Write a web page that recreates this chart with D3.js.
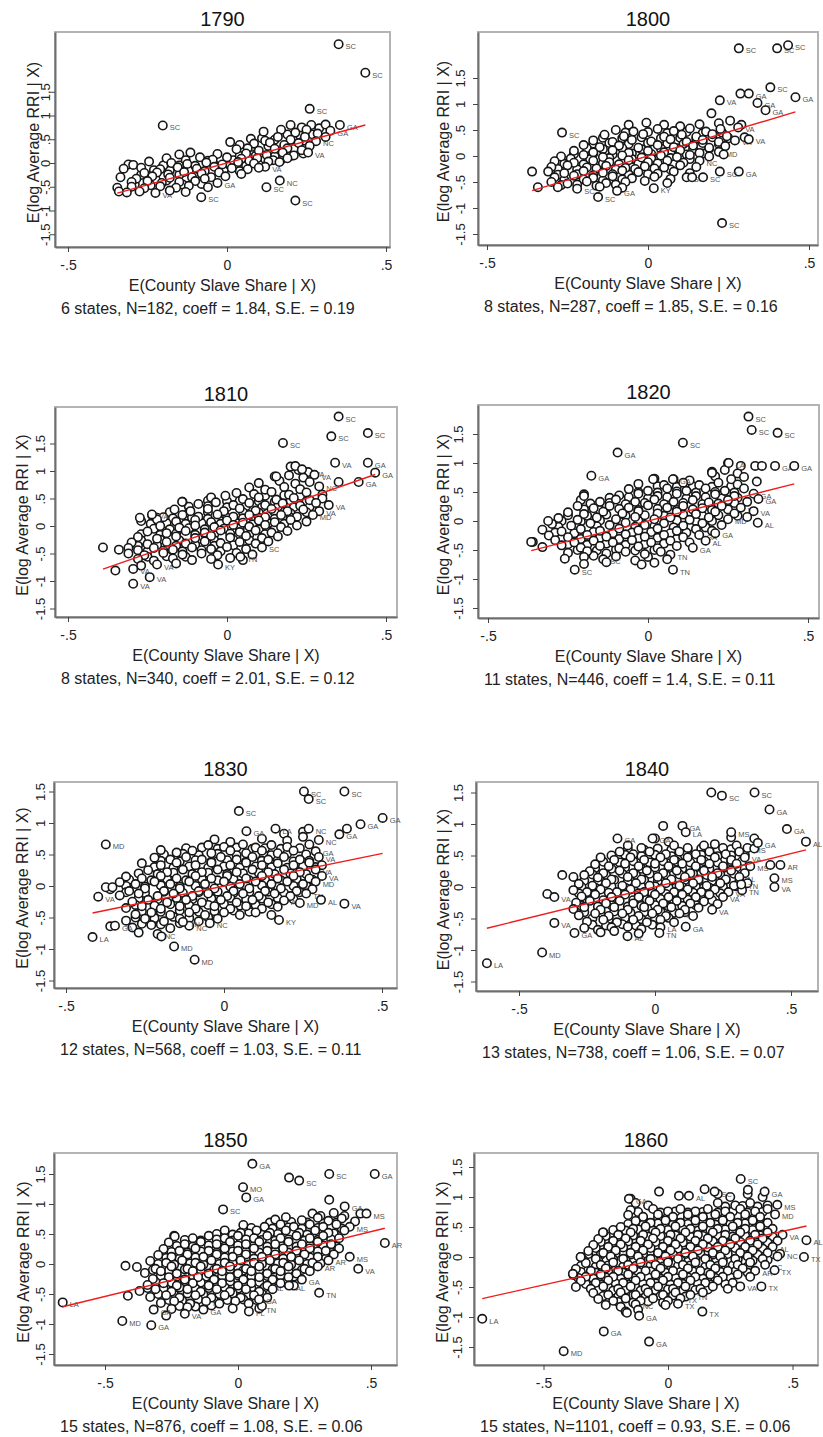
<!DOCTYPE html>
<html>
<head>
<meta charset="utf-8">
<script src="https://cdn.jsdelivr.net/npm/d3@7"></script>
<style>
  body { margin: 0; background: #fff; }
  text { font-family: "Liberation Sans", Arial, Helvetica, sans-serif; }
</style>
</head>
<body>
<div id="chart"></div>
<script>
// one panel per census year
const years = [1790, 1800, 1810, 1820, 1830, 1840, 1850, 1860];
const nStates = [6, 8, 8, 11, 12, 13, 15, 15];
const nObs = [182, 287, 340, 446, 568, 738, 876, 1101];
const coeffs = [1.84, 1.85, 2.01, 1.4, 1.03, 1.06, 1.08, 0.93];
const stdErrs = [0.19, 0.16, 0.12, 0.11, 0.11, 0.07, 0.06, 0.06];
const xTicks = [-0.5, 0, 0.5];
const yTicks = [-1.5, -1, -0.5, 0, 0.5, 1, 1.5];

// counties: [x, y, state label]
const pts1790 = [
  [0.20,0.80],[0.235,0.75],[0.265,0.80],[0.29,0.73],[0.31,0.81],[0.355,0.80,"GA"],
  [0.115,0.66],[0.17,0.70],[0.215,0.64],[0.25,0.70],[0.285,0.62],[0.325,0.68,"GA"],
  [0.075,0.51],[0.12,0.47],[0.16,0.55],[0.2,0.49],[0.245,0.55],[0.28,0.46,"NC"],[0.31,0.55],
  [0.01,0.44],[0.04,0.38,"GA"],[0.085,0.41],[0.135,0.43],[0.18,0.38],[0.225,0.42],[0.26,0.36],
  [0.03,0.29],[0.065,0.31],[0.1,0.26],[0.15,0.30],[0.19,0.31],[0.235,0.27],[0.255,0.22,"VA"],
  [-0.15,0.18],[-0.115,0.22],[-0.03,0.19],[0.06,0.20],[0.125,0.17],[0.175,0.22],[0.21,0.16],
  [-0.19,0.1],[-0.085,0.12],[-0.045,0.07],[0.0,0.12],[0.045,0.09],[0.095,0.1],[0.145,0.06],[0.19,0.1],[0.165,0.02],
  [-0.31,-0.03],[-0.295,-0.04],[-0.245,0.03],[-0.175,0.0],[-0.125,-0.02],[-0.065,0.01],[-0.015,-0.03],[0.035,0.02],[0.085,-0.01],[0.13,0.03],[0.12,-0.08,"VA"],
  [-0.325,-0.12],[-0.27,-0.1],[-0.21,-0.13],[-0.155,-0.09],[-0.095,-0.12],[-0.04,-0.08],[0.015,-0.11],[0.065,-0.13],[0.1,-0.1],
  [-0.26,-0.21],[-0.22,-0.2],[-0.185,-0.24],[-0.135,-0.19],[-0.08,-0.22],[-0.025,-0.2],[0.045,-0.23],
  [-0.335,-0.3],[-0.285,-0.33],[-0.235,-0.28],[-0.18,-0.31],[-0.11,-0.3],[-0.07,-0.33],[-0.005,-0.28],
  [-0.3,-0.4],[-0.25,-0.38],[-0.205,-0.42],[-0.15,-0.4],[-0.1,-0.38],[-0.03,-0.42,"GA"],
  [-0.345,-0.52],[-0.3,-0.5],[-0.26,-0.53],[-0.21,-0.49],[-0.16,-0.52],[-0.12,-0.48],[-0.06,-0.51],
  [-0.34,-0.6],[-0.315,-0.62],[-0.275,-0.6],[-0.225,-0.63,"VA"],[-0.18,-0.58],[-0.13,-0.61],
  [0.351,2.5,"SC"],[0.435,1.9,"SC"],[0.26,1.14,"SC"],[-0.202,0.79,"SC"],[-0.081,-0.72,"SC"],
  [0.124,-0.51,"SC"],[0.166,-0.37,"NC"],[0.215,-0.79,"SC"]
];
const fill1790 = [
  [-0.29,-0.45],[-0.24,-0.47],[-0.19,-0.37],[-0.14,-0.45],[-0.08,-0.44],[-0.27,-0.25],[-0.2,-0.28],[-0.15,-0.25],
  [-0.1,-0.27],[-0.05,-0.3],[-0.23,-0.15],[-0.18,-0.16],[-0.12,-0.15],[-0.07,-0.17],[-0.01,-0.15],[0.04,-0.17],
  [-0.2,-0.05],[-0.15,-0.05],[-0.1,-0.06],[-0.04,-0.04],[0.01,-0.05],[0.06,-0.06],[0.11,-0.04],[-0.13,0.06],
  [-0.06,0.05],[0.02,0.06],[0.07,0.05],[0.12,0.08],[0.17,0.07],[0.04,0.15],[0.09,0.15],[0.15,0.14],[0.2,0.15],
  [0.24,0.2],[0.08,0.34],[0.13,0.36],[0.18,0.33],[0.22,0.37],[0.11,0.52],[0.15,0.49],[0.19,0.6],[0.23,0.58],
  [0.27,0.6],[0.24,0.47],[0.21,0.3]
];

const pts1800 = [
  [-0.06,0.6],[-0.005,0.64],[0.05,0.6],[0.1,0.57],[0.16,0.61],[0.22,0.63],[0.255,0.68],[0.29,0.6],
  [-0.1,0.5],[-0.045,0.47],[0.03,0.52],[0.08,0.48],[0.13,0.53],[0.18,0.47],[0.225,0.52],[0.28,0.55,"VA"],
  [-0.135,0.41],[-0.075,0.38],[-0.015,0.42],[0.05,0.37],[0.105,0.41],[0.15,0.37],[0.2,0.42],[0.245,0.38],[0.3,0.36],
  [-0.17,0.3],[-0.11,0.27],[-0.05,0.31],[0.01,0.28],[0.07,0.32],[0.12,0.27],[0.17,0.31],[0.22,0.27],[0.27,0.3,"VA"],
  [-0.2,0.21],[-0.15,0.17],[-0.09,0.2],[-0.03,0.16],[0.03,0.21],[0.08,0.17],[0.14,0.2],[0.19,0.16],[0.24,0.19],
  [-0.23,0.1],[-0.17,0.07],[-0.11,0.11],[-0.06,0.06],[0.0,0.1],[0.05,0.07],[0.1,0.11],[0.16,0.06],[0.22,0.08,"MD"],
  [-0.27,-0.01],[-0.2,0.02],[-0.14,-0.02],[-0.08,0.01],[-0.02,-0.03],[0.04,0.01],[0.09,-0.02],[0.13,0.02],[0.19,-0.01],[0.235,0.03],
  [-0.29,-0.1],[-0.23,-0.13],[-0.17,-0.09],[-0.12,-0.12],[-0.06,-0.08],[0.0,-0.12],[0.06,-0.09],[0.11,-0.13],[0.16,-0.09,"NC"],
  [-0.3,-0.21],[-0.25,-0.18],[-0.19,-0.22],[-0.13,-0.19],[-0.07,-0.23],[-0.01,-0.2],[0.05,-0.22],[0.1,-0.18],[0.15,-0.21],
  [-0.31,-0.3],[-0.26,-0.33],[-0.2,-0.29],[-0.14,-0.32],[-0.08,-0.28],[-0.03,-0.31],[0.03,-0.34],[0.08,-0.3],[0.13,-0.33],
  [-0.29,-0.41],[-0.23,-0.38],[-0.17,-0.42],[-0.11,-0.39],[-0.05,-0.43],[0.02,-0.4],[0.07,-0.44],[0.12,-0.41,"SC"],
  [-0.3,-0.5],[-0.25,-0.53],[-0.19,-0.49],[-0.13,-0.52],[-0.07,-0.5],[-0.01,-0.48],[0.06,-0.52],
  [-0.28,-0.6],[-0.22,-0.63,"SC"],[-0.15,-0.59],[-0.08,-0.61],
  [0.282,2.07,"SC"],[0.401,2.07,"SC"],[0.435,2.13,"SC"],[0.38,1.32,"SC"],[0.458,1.13,"GA"],[0.223,1.07,"VA"],
  [0.287,1.2],[0.313,1.2,"GA"],[0.34,1.02,"GA"],[0.365,0.88,"GA"],[0.197,0.82],[-0.267,0.45,"SC"],
  [-0.36,-0.3],[-0.342,-0.6],[-0.155,-0.79,"SC"],[-0.096,-0.67,"GA"],[0.018,-0.62,"KY"],[0.23,-1.29,"SC"],
  [0.282,-0.3,"GA"],[0.223,-0.3,"SC"],[0.137,-0.41],[0.171,-0.41,"SC"],[0.313,0.32,"VA"]
];
const fill1800 = [
  [-0.07,0.45],[0.0,0.46],[0.06,0.44],[0.12,0.46],[0.17,0.44],[0.23,0.45],
  [-0.14,0.35],[-0.08,0.34],[-0.02,0.36],[0.04,0.34],[0.1,0.35],[0.15,0.33],[0.2,0.36],[0.25,0.34],
  [-0.17,0.24],[-0.12,0.25],[-0.06,0.23],[0.0,0.25],[0.06,0.24],[0.11,0.23],[0.17,0.25],[0.22,0.23],
  [-0.19,0.15],[-0.14,0.13],[-0.08,0.15],[-0.02,0.13],[0.04,0.14],[0.09,0.15],[0.14,0.13],[0.19,0.14],
  [-0.23,0.04],[-0.17,0.05],[-0.11,0.03],[-0.05,0.05],[0.01,0.04],[0.07,0.05],[0.12,0.03],[0.17,0.05],
  [-0.24,-0.05],[-0.18,-0.06],[-0.12,-0.04],[-0.05,-0.06],[0.01,-0.05],[0.07,-0.04],[0.13,-0.06],
  [-0.26,-0.15],[-0.2,-0.16],[-0.14,-0.14],[-0.09,-0.16],[-0.03,-0.15],[0.03,-0.14],[0.08,-0.16],
  [-0.28,-0.25],[-0.22,-0.26],[-0.16,-0.24],[-0.1,-0.26],[-0.04,-0.25],[0.02,-0.24],[0.07,-0.26],
  [-0.28,-0.36],[-0.22,-0.35],[-0.17,-0.37],[-0.11,-0.35],[-0.06,-0.36],[0.0,-0.35],
  [-0.26,-0.46],[-0.2,-0.45],[-0.14,-0.47],[-0.08,-0.45],
  [-0.27,-0.56],[-0.22,-0.55],[-0.16,-0.57],[-0.1,-0.55]
];

const pts1810 = [
  [0.2,1.08],[0.225,1.02,"VA"],[0.255,0.98,"VA"],
  [0.15,0.9],[0.195,0.92],[0.24,0.88],[0.275,0.93,"VA"],
  [0.1,0.78],[0.165,0.82],[0.215,0.77],[0.26,0.8],
  [0.07,0.7],[0.12,0.66],[0.18,0.71],[0.23,0.67],[0.29,0.72,"NC"],
  [0.03,0.6],[0.085,0.58],[0.14,0.62],[0.195,0.57],[0.25,0.61],[0.3,0.57],
  [-0.05,0.52],[-0.005,0.55],[0.05,0.49],[0.1,0.52],[0.155,0.48],[0.21,0.51],[0.26,0.47],[0.3,0.5],
  [-0.14,0.44],[-0.09,0.4],[-0.035,0.43],[0.02,0.38],[0.07,0.42],[0.12,0.38],[0.175,0.41],[0.23,0.37],[0.28,0.42],[0.32,0.38,"VA"],
  [-0.165,0.3],[-0.115,0.27],[-0.06,0.31],[-0.01,0.27],[0.04,0.32],[0.09,0.28],[0.14,0.31],[0.19,0.27],[0.24,0.3],[0.29,0.27,"VA"],
  [-0.235,0.19],[-0.2,0.16],[-0.14,0.2],[-0.09,0.17],[-0.03,0.21],[0.02,0.17],[0.07,0.2],[0.12,0.16],[0.17,0.2],[0.22,0.17],[0.27,0.2,"MD"],
  [-0.27,0.09],[-0.22,0.12],[-0.16,0.08],[-0.1,0.11],[-0.05,0.07],[0.0,0.1],[0.05,0.06],[0.1,0.1],[0.15,0.07],[0.2,0.11],[0.25,0.08],
  [-0.21,0.0],[-0.15,-0.03],[-0.1,0.01],[-0.04,-0.02],[0.02,0.02],[0.07,-0.01],[0.12,0.02],[0.17,-0.02],[0.22,0.01],
  [-0.25,-0.1],[-0.19,-0.13],[-0.13,-0.09],[-0.07,-0.12],[-0.02,-0.08],[0.04,-0.11],[0.09,-0.08],[0.14,-0.12],[0.19,-0.09],
  [-0.28,-0.2],[-0.22,-0.23],[-0.16,-0.19],[-0.1,-0.22],[-0.05,-0.18],[0.01,-0.21],[0.06,-0.18],[0.11,-0.22],[0.16,-0.19],
  [-0.3,-0.3],[-0.25,-0.33],[-0.19,-0.29],[-0.13,-0.32],[-0.07,-0.28],[-0.02,-0.31],[0.04,-0.29],[0.09,-0.32],[0.13,-0.28],
  [-0.34,-0.43],[-0.31,-0.4],[-0.28,-0.44],[-0.23,-0.4],[-0.17,-0.43],[-0.11,-0.39],[-0.05,-0.42],[0.0,-0.38],[0.06,-0.42],[0.11,-0.39,"SC"],
  [-0.31,-0.5],[-0.26,-0.53],[-0.2,-0.49],[-0.14,-0.52],[-0.08,-0.5],[-0.03,-0.53],[0.03,-0.49],[0.08,-0.52],
  [-0.28,-0.6],[-0.23,-0.63],[-0.17,-0.59],[-0.11,-0.62],[-0.05,-0.6],[0.01,-0.58],[0.05,-0.62],
  [-0.27,-0.72],[-0.22,-0.7,"VA"],[-0.16,-0.68],
  [0.351,1.99,"SC"],[0.328,1.63,"SC"],[0.443,1.69,"SC"],[0.176,1.51,"SC"],[0.34,1.15,"VA"],[0.443,1.15,"GA"],
  [0.466,0.97,"GA"],[0.414,0.8,"GA"],[0.351,0.8],[0.215,1.09],[0.236,1.03],[0.155,0.9],
  [-0.39,-0.39],[-0.351,-0.81],[-0.295,-1.05,"VA"],[-0.243,-0.93,"VA"],[-0.295,-0.78,"VA"],
  [-0.274,0.15],[-0.236,0.21,"VA"],[-0.141,0.44],[-0.028,-0.7,"KY"],[0.042,-0.56,"TN"]
];
const fill1810 = [
  [0.12,0.55],[0.18,0.56],[0.23,0.55],
  [-0.06,0.46],[0.0,0.45],[0.04,0.46],[0.1,0.45],[0.15,0.44],[0.2,0.46],[0.25,0.44],
  [-0.12,0.35],[-0.06,0.36],[0.0,0.34],[0.06,0.36],[0.11,0.34],[0.16,0.35],[0.21,0.34],[0.26,0.35],
  [-0.18,0.25],[-0.12,0.24],[-0.06,0.25],[-0.01,0.23],[0.05,0.25],[0.1,0.24],[0.15,0.25],[0.2,0.23],[0.25,0.25],
  [-0.22,0.15],[-0.17,0.14],[-0.11,0.15],[-0.06,0.13],[0.0,0.15],[0.05,0.14],[0.1,0.15],[0.15,0.13],[0.2,0.15],
  [-0.24,0.04],[-0.19,0.05],[-0.13,0.04],[-0.08,0.05],[-0.02,0.04],[0.03,0.05],[0.08,0.03],[0.13,0.05],[0.18,0.04],
  [-0.23,-0.05],[-0.18,-0.06],[-0.12,-0.04],[-0.07,-0.06],[-0.01,-0.05],[0.04,-0.04],[0.1,-0.06],[0.15,-0.05],
  [-0.27,-0.15],[-0.21,-0.16],[-0.16,-0.14],[-0.1,-0.16],[-0.04,-0.15],[0.01,-0.14],[0.07,-0.16],[0.12,-0.15],
  [-0.27,-0.26],[-0.21,-0.25],[-0.15,-0.26],[-0.09,-0.24],[-0.04,-0.26],[0.02,-0.25],[0.07,-0.26],
  [-0.28,-0.36],[-0.22,-0.35],[-0.16,-0.36],[-0.1,-0.34],[-0.04,-0.36],[0.02,-0.35],
  [-0.25,-0.46],[-0.2,-0.45],[-0.14,-0.46],[-0.08,-0.44],[-0.02,-0.46],
  [-0.25,-0.56],[-0.19,-0.55],[-0.13,-0.56]
];

const pts1820 = [
  [0.25,1.0],[0.29,0.95],
  [0.2,0.85],[0.24,0.88],[0.28,0.82],
  [0.02,0.73],[0.08,0.72],[0.13,0.7],[0.21,0.77],[0.26,0.72],[0.3,0.76],
  [-0.03,0.64],[0.05,0.62],[0.11,0.66],[0.16,0.62],[0.22,0.66],[0.28,0.63],[0.34,0.68],
  [-0.06,0.55],[0.0,0.52],[0.06,0.56],[0.12,0.52],[0.18,0.56],[0.24,0.52],[0.3,0.56],
  [-0.2,0.46],[-0.09,0.44],[-0.03,0.47],[0.03,0.43],[0.09,0.47],[0.15,0.43],[0.21,0.46],[0.27,0.43],[0.33,0.47,"GA"],
  [-0.21,0.36],[-0.15,0.33],[-0.1,0.37],[-0.04,0.33],[0.02,0.37],[0.08,0.33],[0.14,0.36],[0.19,0.32],[0.25,0.36],[0.31,0.33],[0.345,0.38,"GA"],
  [-0.22,0.26],[-0.17,0.22],[-0.12,0.26],[-0.06,0.23],[0.0,0.27],[0.06,0.23],[0.11,0.26],[0.17,0.22],[0.23,0.26],[0.29,0.23,"VA"],
  [-0.25,0.15],[-0.2,0.12],[-0.14,0.16],[-0.08,0.13],[-0.03,0.17],[0.03,0.13],[0.09,0.16],[0.15,0.12],[0.21,0.16],[0.27,0.13],[0.33,0.17,"VA"],
  [-0.28,0.05],[-0.22,0.02],[-0.16,0.06],[-0.1,0.03],[-0.04,0.07],[0.02,0.03],[0.07,0.06],[0.13,0.02],[0.19,0.06],[0.25,0.03,"MD"],[0.31,0.07],
  [-0.3,-0.05],[-0.24,-0.08],[-0.18,-0.04],[-0.12,-0.07],[-0.07,-0.03],[-0.01,-0.07],[0.05,-0.04],[0.11,-0.08],[0.17,-0.04],[0.23,-0.07],
  [-0.33,-0.15],[-0.27,-0.18],[-0.21,-0.14],[-0.15,-0.17],[-0.09,-0.13],[-0.03,-0.16],[0.03,-0.13],[0.09,-0.17],[0.15,-0.14],[0.2,-0.17],
  [-0.31,-0.25],[-0.25,-0.28],[-0.19,-0.24],[-0.13,-0.27],[-0.07,-0.23],[-0.01,-0.27],[0.05,-0.24],[0.11,-0.28],[0.16,-0.24,"GA"],[0.21,-0.21,"GA"],
  [-0.36,-0.36],[-0.29,-0.33],[-0.23,-0.37],[-0.17,-0.34],[-0.11,-0.37],[-0.05,-0.33],[0.01,-0.37],[0.07,-0.34],[0.13,-0.37],[0.18,-0.34,"AL"],
  [-0.33,-0.45],[-0.27,-0.42],[-0.21,-0.46],[-0.15,-0.43],[-0.09,-0.47],[-0.03,-0.44],[0.03,-0.47],[0.09,-0.43],[0.14,-0.46,"GA"],
  [-0.25,-0.55],[-0.19,-0.52],[-0.13,-0.56],[-0.07,-0.53],[-0.01,-0.57],[0.04,-0.53],[0.07,-0.58,"TN"],
  [-0.26,-0.65],[-0.2,-0.62],[-0.14,-0.66,"SC"],[-0.04,-0.68],[0.02,-0.72],[0.06,-0.66],
  [-0.2,-0.74],[-0.13,-0.71],[-0.02,-0.75],
  [0.314,1.8,"SC"],[0.324,1.57,"SC"],[0.405,1.52,"SC"],[0.109,1.35,"SC"],[-0.095,1.18,"GA"],[-0.177,0.78,"GA"],
  [0.252,1.0,"LA"],[0.335,0.95],[0.356,0.95],[0.397,0.95,"GA"],[0.457,0.95,"GA"],[0.343,-0.03,"AL"],
  [-0.312,0.0],[-0.365,-0.36],[-0.229,-0.84,"SC"],[0.078,-0.84,"TN"],[0.016,0.72],[0.078,0.72,"GA"],[0.2,0.83],[-0.2,0.43]
];
const fill1820 = [
  [0.03,0.6],[0.09,0.59],[0.14,0.6],[0.2,0.59],[0.26,0.6],
  [-0.03,0.5],[0.03,0.49],[0.09,0.51],[0.15,0.49],[0.21,0.5],[0.27,0.49],
  [-0.12,0.4],[-0.06,0.41],[0.0,0.39],[0.06,0.41],[0.12,0.39],[0.18,0.41],[0.23,0.39],[0.28,0.4],
  [-0.18,0.3],[-0.12,0.31],[-0.07,0.29],[-0.01,0.31],[0.05,0.29],[0.11,0.31],[0.17,0.29],[0.22,0.3],[0.27,0.31],
  [-0.2,0.2],[-0.15,0.19],[-0.09,0.21],[-0.03,0.19],[0.03,0.21],[0.09,0.19],[0.14,0.2],[0.2,0.19],[0.25,0.2],
  [-0.25,0.1],[-0.19,0.09],[-0.13,0.11],[-0.07,0.09],[-0.01,0.1],[0.05,0.09],[0.11,0.11],[0.17,0.09],[0.22,0.1],[0.28,0.09],
  [-0.27,0.0],[-0.21,-0.01],[-0.15,0.01],[-0.09,-0.01],[-0.03,0.0],[0.03,-0.01],[0.09,0.01],[0.15,-0.01],[0.2,0.0],
  [-0.28,-0.1],[-0.22,-0.11],[-0.16,-0.09],[-0.1,-0.11],[-0.04,-0.1],[0.02,-0.09],[0.08,-0.11],[0.13,-0.1],[0.18,-0.11],
  [-0.29,-0.2],[-0.23,-0.21],[-0.17,-0.19],[-0.11,-0.21],[-0.05,-0.2],[0.01,-0.19],[0.07,-0.21],[0.12,-0.2],
  [-0.27,-0.3],[-0.21,-0.31],[-0.15,-0.29],[-0.09,-0.31],[-0.03,-0.3],[0.03,-0.29],[0.09,-0.31],
  [-0.25,-0.4],[-0.19,-0.41],[-0.13,-0.39],[-0.07,-0.41],[-0.01,-0.4],[0.05,-0.39],
  [-0.22,-0.5],[-0.16,-0.51],[-0.1,-0.49],[-0.04,-0.51],[0.02,-0.5],
  [-0.17,-0.6],[-0.1,-0.61],[0.0,-0.62]
];

const pts1830 = [
  [0.19,0.83],[0.25,0.86],
  [-0.03,0.74],[0.02,0.7],[0.12,0.75],[0.2,0.72],[0.25,0.78],[0.3,0.73,"NC"],
  [-0.05,0.65],[0.0,0.62],[0.06,0.66,"GA"],[0.1,0.61],[0.15,0.65],[0.2,0.62],[0.27,0.66],
  [-0.2,0.57],[-0.15,0.53],[-0.1,0.56],[-0.04,0.52],[0.02,0.56],[0.07,0.52],[0.12,0.56],[0.17,0.52],[0.22,0.56],[0.29,0.55,"GA"],
  [-0.22,0.45],[-0.17,0.42],[-0.12,0.46],[-0.07,0.42],[-0.01,0.46],[0.04,0.42],[0.09,0.46],[0.14,0.42],[0.19,0.46],[0.24,0.42],[0.3,0.46,"VA"],
  [-0.26,0.36],[-0.2,0.33],[-0.15,0.37],[-0.09,0.33],[-0.04,0.37],[0.02,0.33],[0.07,0.37],[0.12,0.33],[0.17,0.36],[0.22,0.33],[0.27,0.37],[0.31,0.33],
  [-0.24,0.25],[-0.18,0.22],[-0.13,0.26],[-0.07,0.22],[-0.02,0.26],[0.04,0.22],[0.09,0.26],[0.14,0.22],[0.19,0.26],[0.24,0.22],[0.29,0.26,"VA"],
  [-0.31,0.15],[-0.26,0.12],[-0.2,0.16],[-0.15,0.12],[-0.09,0.16],[-0.04,0.12],[0.01,0.16],[0.07,0.12],[0.12,0.16],[0.17,0.12],[0.22,0.16],[0.27,0.12],[0.31,0.16,"VA"],
  [-0.33,0.06],[-0.28,0.03],[-0.22,0.07],[-0.17,0.03],[-0.11,0.07],[-0.06,0.03],[0.0,0.07],[0.05,0.03],[0.1,0.07],[0.15,0.03],[0.2,0.07],[0.25,0.03],[0.29,0.07,"MD"],
  [-0.36,-0.05],[-0.3,-0.08],[-0.25,-0.04],[-0.19,-0.08],[-0.14,-0.04],[-0.08,-0.08],[-0.03,-0.04],[0.03,-0.08],[0.08,-0.04],[0.13,-0.08],[0.18,-0.04],[0.23,-0.08],[0.28,-0.05],
  [-0.33,-0.15],[-0.27,-0.12],[-0.21,-0.16],[-0.16,-0.12],[-0.1,-0.16],[-0.05,-0.12],[0.01,-0.16],[0.06,-0.12],[0.11,-0.16],[0.16,-0.12],[0.21,-0.16],[0.26,-0.12,"TN"],
  [-0.29,-0.25],[-0.24,-0.22],[-0.18,-0.26],[-0.12,-0.22],[-0.07,-0.26],[-0.01,-0.22],[0.04,-0.26],[0.09,-0.22],[0.14,-0.26],[0.19,-0.23,"AL"],[0.24,-0.27,"MD"],
  [-0.31,-0.35],[-0.26,-0.32],[-0.2,-0.36],[-0.14,-0.32],[-0.09,-0.36],[-0.03,-0.32],[0.02,-0.36],[0.07,-0.32],[0.12,-0.36],[0.17,-0.33],
  [-0.28,-0.45],[-0.23,-0.42],[-0.17,-0.46],[-0.11,-0.42],[-0.06,-0.46],[0.0,-0.42],[0.05,-0.46],[0.1,-0.42],[0.15,-0.46],
  [-0.31,-0.55],[-0.25,-0.52],[-0.19,-0.56],[-0.14,-0.52],[-0.08,-0.56],[-0.02,-0.52],
  [-0.29,-0.66],[-0.23,-0.62],[-0.17,-0.67],[-0.11,-0.63,"NC"],
  [-0.27,-0.74],[-0.21,-0.76,"NC"],
  [0.253,1.5,"SC"],[0.268,1.38,"SC"],[0.381,1.5,"SC"],[0.047,1.19,"SC"],[0.071,0.87,"GA"],[0.163,0.91,"LA"],
  [0.268,0.91,"NC"],[0.502,1.08,"GA"],[0.432,0.98,"GA"],[0.389,0.91],[0.365,0.82,"GA"],[-0.374,0.66,"MD"],
  [-0.416,-0.81,"LA"],[-0.398,-0.17,"VA"],[-0.374,-0.02],[-0.353,-0.02],[-0.36,-0.64],[-0.345,-0.63,"GA"],
  [-0.158,-0.96,"MD"],[-0.093,-1.17,"MD"],[-0.198,-0.8],[0.174,-0.54,"KY"],[0.381,-0.28,"VA"],
  [0.307,-0.22,"AL"],[-0.045,-0.59,"NC"],[-0.13,-0.57,"TN"]
];
const fill1830 = [
  [-0.12,0.6],[-0.07,0.61],[-0.02,0.59],[0.04,0.61],[0.09,0.59],[0.13,0.6],[0.18,0.59],[0.24,0.6],
  [-0.19,0.5],[-0.13,0.51],[-0.08,0.49],[-0.02,0.51],[0.04,0.49],[0.1,0.5],[0.15,0.49],[0.2,0.51],[0.26,0.5],
  [-0.2,0.4],[-0.14,0.39],[-0.09,0.41],[-0.04,0.39],[0.01,0.41],[0.07,0.39],[0.12,0.4],[0.17,0.41],[0.22,0.39],[0.27,0.4],
  [-0.22,0.3],[-0.16,0.29],[-0.11,0.31],[-0.05,0.29],[0.0,0.31],[0.05,0.29],[0.1,0.31],[0.15,0.3],[0.2,0.29],[0.25,0.31],[0.29,0.3],
  [-0.27,0.2],[-0.21,0.19],[-0.16,0.21],[-0.1,0.19],[-0.05,0.21],[0.01,0.19],[0.06,0.2],[0.11,0.21],[0.16,0.19],[0.21,0.2],[0.26,0.19],
  [-0.3,0.1],[-0.23,0.09],[-0.18,0.11],[-0.12,0.09],[-0.07,0.11],[-0.02,0.09],[0.03,0.11],[0.08,0.09],[0.13,0.1],[0.18,0.09],[0.23,0.11],[0.28,0.1],
  [-0.31,0.0],[-0.25,-0.01],[-0.2,0.01],[-0.14,-0.01],[-0.09,0.0],[-0.04,0.01],[0.02,-0.01],[0.07,0.0],[0.12,0.01],[0.17,-0.01],[0.22,0.0],[0.26,0.01],
  [-0.31,-0.1],[-0.25,-0.11],[-0.19,-0.09],[-0.13,-0.11],[-0.08,-0.1],[-0.02,-0.09],[0.03,-0.11],[0.08,-0.1],[0.14,-0.09],[0.19,-0.11],[0.24,-0.1],
  [-0.27,-0.2],[-0.21,-0.21],[-0.15,-0.19],[-0.1,-0.21],[-0.04,-0.2],[0.02,-0.19],[0.07,-0.21],[0.12,-0.2],[0.17,-0.19],[0.22,-0.21],
  [-0.28,-0.3],[-0.22,-0.31],[-0.17,-0.29],[-0.11,-0.31],[-0.05,-0.3],[0.0,-0.29],[0.05,-0.31],[0.1,-0.3],[0.15,-0.29],
  [-0.26,-0.4],[-0.2,-0.41],[-0.14,-0.39],[-0.08,-0.41],[-0.03,-0.4],[0.03,-0.39],[0.08,-0.41],
  [-0.28,-0.5],[-0.22,-0.51],[-0.16,-0.49],[-0.11,-0.51],[-0.05,-0.5],
  [-0.26,-0.6],[-0.2,-0.61],[-0.14,-0.59]
];

const pts1840 = [
  [0.0,0.77],[0.05,0.72],[0.22,0.68],[0.28,0.79],[0.365,0.77],
  [-0.1,0.66],[-0.05,0.62],[0.07,0.66],[0.12,0.62],[0.18,0.66],[0.25,0.62],[0.3,0.66],[0.34,0.62,"MS"],
  [-0.13,0.56],[-0.08,0.52],[-0.02,0.56],[0.04,0.52],[0.09,0.56],[0.15,0.52],[0.2,0.56],[0.26,0.52],[0.31,0.56],[0.365,0.61],
  [-0.2,0.47],[-0.15,0.43],[-0.09,0.47],[-0.04,0.43],[0.02,0.47],[0.07,0.43],[0.12,0.47],[0.17,0.43],[0.22,0.47],[0.28,0.43],[0.33,0.47,"VA"],
  [-0.22,0.36],[-0.17,0.33],[-0.11,0.37],[-0.06,0.33],[0.0,0.37],[0.05,0.33],[0.1,0.37],[0.15,0.33],[0.2,0.37],[0.25,0.33],[0.3,0.37],[0.35,0.33,"MS"],
  [-0.24,0.25],[-0.19,0.22],[-0.13,0.26],[-0.08,0.22],[-0.03,0.26],[0.03,0.22],[0.08,0.26],[0.13,0.22],[0.18,0.26],[0.23,0.22],[0.28,0.26],[0.33,0.22],
  [-0.3,0.16],[-0.26,0.19],[-0.21,0.15],[-0.16,0.12],[-0.1,0.16],[-0.05,0.12],[0.01,0.16],[0.06,0.12],[0.11,0.16],[0.16,0.12],[0.21,0.16],[0.26,0.12],[0.31,0.16,"AL"],
  [-0.28,0.05],[-0.23,0.02],[-0.18,0.06],[-0.12,0.02],[-0.07,0.06],[-0.02,0.02],[0.04,0.06],[0.09,0.02],[0.14,0.06],[0.19,0.02],[0.24,0.06],[0.29,0.02],[0.34,0.06],
  [-0.3,-0.05],[-0.25,-0.08],[-0.2,-0.04],[-0.14,-0.08],[-0.09,-0.04],[-0.04,-0.08],[0.02,-0.04],[0.07,-0.08],[0.12,-0.04],[0.17,-0.08],[0.22,-0.04],[0.27,-0.08,"VA"],[0.32,-0.05,"TN"],
  [-0.27,-0.15],[-0.22,-0.12],[-0.16,-0.16],[-0.11,-0.12],[-0.06,-0.16],[0.0,-0.12],[0.05,-0.16],[0.1,-0.12],[0.15,-0.16],[0.2,-0.12],[0.25,-0.16,"VA"],
  [-0.29,-0.25],[-0.24,-0.22],[-0.18,-0.26],[-0.13,-0.22],[-0.08,-0.26],[-0.02,-0.22],[0.03,-0.26],[0.08,-0.22],[0.13,-0.26],[0.18,-0.23],[0.23,-0.27],
  [-0.3,-0.35],[-0.26,-0.32],[-0.2,-0.36],[-0.15,-0.32],[-0.1,-0.36],[-0.04,-0.32],[0.01,-0.36],[0.06,-0.32],[0.11,-0.36],[0.16,-0.33],[0.21,-0.36,"VA"],
  [-0.28,-0.45],[-0.22,-0.42],[-0.17,-0.46],[-0.12,-0.42],[-0.06,-0.46],[-0.01,-0.42],[0.04,-0.46],[0.09,-0.42,"AL"],[0.14,-0.46],
  [-0.25,-0.55],[-0.19,-0.52],[-0.14,-0.56],[-0.08,-0.52],[-0.03,-0.56],[0.02,-0.52],[0.07,-0.56],
  [-0.26,-0.65],[-0.21,-0.68],[-0.16,-0.64],[-0.1,-0.63,"AL"],[-0.05,-0.67],[0.02,-0.64,"LA"],
  [-0.2,-0.72],[-0.15,-0.7],[-0.06,-0.74],
  [0.207,1.5],[0.246,1.45,"SC"],[0.366,1.5,"SC"],[0.421,1.23,"GA"],[0.485,0.92,"GA"],[0.555,0.72,"AL"],
  [0.03,0.97],[0.101,0.97,"GA"],[0.113,0.87,"LA"],[-0.138,0.77,"GA"],[-0.009,0.77,"GA"],[0.28,0.87,"MS"],
  [0.378,0.7,"GA"],[0.424,0.35],[0.461,0.35,"AR"],[0.439,0.14,"MS"],[0.439,0.0,"VA"],[-0.341,0.19],
  [-0.396,-0.11],[-0.37,-0.16,"VA"],[-0.37,-0.57,"VA"],[-0.296,-0.73,"GA"],[-0.415,-1.04,"MD"],[-0.618,-1.21,"LA"],
  [-0.101,-0.78,"AL"],[0.016,-0.73,"TN"],[0.113,-0.63,"GA"],[0.317,0.04,"TN"]
];
const fill1840 = [
  [-0.1,0.6],[-0.04,0.59],[0.01,0.61],[0.06,0.59],[0.12,0.6],[0.17,0.61],[0.23,0.59],[0.28,0.6],
  [-0.16,0.5],[-0.11,0.51],[-0.05,0.49],[0.0,0.51],[0.06,0.49],[0.11,0.5],[0.17,0.51],[0.23,0.49],[0.28,0.5],[0.33,0.51],
  [-0.19,0.4],[-0.13,0.39],[-0.08,0.41],[-0.02,0.39],[0.03,0.41],[0.08,0.4],[0.13,0.39],[0.18,0.41],[0.23,0.39],[0.28,0.4],[0.32,0.41],
  [-0.22,0.3],[-0.16,0.29],[-0.11,0.31],[-0.05,0.29],[0.0,0.31],[0.05,0.3],[0.1,0.29],[0.15,0.31],[0.2,0.29],[0.25,0.3],[0.3,0.31],
  [-0.23,0.2],[-0.18,0.19],[-0.12,0.21],[-0.07,0.19],[-0.02,0.21],[0.04,0.19],[0.09,0.2],[0.14,0.21],[0.19,0.19],[0.24,0.2],[0.29,0.21],
  [-0.26,0.1],[-0.21,0.09],[-0.15,0.11],[-0.1,0.09],[-0.04,0.11],[0.01,0.09],[0.06,0.1],[0.11,0.11],[0.16,0.09],[0.21,0.1],[0.26,0.11],[0.31,0.09],
  [-0.27,0.0],[-0.22,-0.01],[-0.16,0.01],[-0.11,-0.01],[-0.05,0.0],[0.0,0.01],[0.05,-0.01],[0.1,0.0],[0.15,0.01],[0.2,-0.01],[0.25,0.0],[0.3,0.01],
  [-0.28,-0.1],[-0.22,-0.11],[-0.17,-0.09],[-0.12,-0.11],[-0.06,-0.1],[-0.01,-0.09],[0.04,-0.11],[0.09,-0.1],[0.14,-0.09],[0.19,-0.11],[0.24,-0.1],
  [-0.25,-0.2],[-0.19,-0.21],[-0.14,-0.19],[-0.08,-0.21],[-0.03,-0.2],[0.02,-0.19],[0.07,-0.21],[0.12,-0.2],[0.17,-0.19],[0.21,-0.21],
  [-0.27,-0.3],[-0.21,-0.31],[-0.16,-0.29],[-0.1,-0.31],[-0.05,-0.3],[0.0,-0.29],[0.05,-0.31],[0.1,-0.3],[0.15,-0.29],
  [-0.26,-0.4],[-0.2,-0.41],[-0.15,-0.39],[-0.09,-0.41],[-0.04,-0.4],[0.02,-0.39],[0.07,-0.41],[0.11,-0.4],
  [-0.23,-0.5],[-0.17,-0.51],[-0.11,-0.49],[-0.05,-0.51],[0.0,-0.5],[0.05,-0.49],
  [-0.23,-0.6],[-0.18,-0.61],[-0.12,-0.59],[-0.07,-0.61],[-0.01,-0.6]
];

const pts1850 = [
  [0.28,0.84],[0.31,0.8],[0.36,0.85],[0.4,0.8],[0.46,0.84],
  [0.14,0.74],[0.18,0.78],[0.24,0.73],[0.3,0.77],[0.34,0.72],[0.39,0.76],[0.44,0.71],
  [0.02,0.65],[0.1,0.62],[0.16,0.66],[0.21,0.62],[0.27,0.66],[0.32,0.62],[0.37,0.66],[0.42,0.62,"MS"],
  [-0.05,0.56],[0.01,0.52],[0.07,0.56],[0.12,0.52],[0.18,0.56],[0.23,0.52],[0.29,0.56],[0.34,0.52],[0.4,0.56],
  [-0.24,0.47],[-0.17,0.43],[-0.11,0.47],[-0.05,0.43],[0.0,0.47],[0.06,0.43],[0.11,0.47],[0.16,0.43],[0.22,0.47],[0.27,0.43],[0.32,0.47],[0.38,0.43],
  [-0.26,0.36],[-0.2,0.33],[-0.14,0.37],[-0.08,0.33],[-0.03,0.37],[0.03,0.33],[0.08,0.37],[0.14,0.33],[0.19,0.37],[0.24,0.33],[0.3,0.37],[0.35,0.33],
  [-0.28,0.25],[-0.22,0.22],[-0.16,0.26],[-0.11,0.22],[-0.05,0.26],[0.0,0.22],[0.06,0.26],[0.11,0.22],[0.17,0.26],[0.22,0.22],[0.27,0.26],[0.33,0.22],[0.38,0.26],
  [-0.3,0.15],[-0.25,0.12],[-0.19,0.16],[-0.13,0.12],[-0.08,0.16],[-0.02,0.12],[0.03,0.16],[0.09,0.12],[0.14,0.16],[0.2,0.12],[0.25,0.16],[0.3,0.12],[0.36,0.16],[0.42,0.12,"MS"],
  [-0.33,0.05],[-0.27,0.02],[-0.21,0.06],[-0.16,0.02],[-0.1,0.06],[-0.05,0.02],[0.01,0.06],[0.06,0.02],[0.12,0.06],[0.17,0.02],[0.23,0.06],[0.28,0.02],[0.34,0.06,"AR"],
  [-0.38,-0.05],[-0.31,-0.08],[-0.25,-0.04],[-0.19,-0.08],[-0.14,-0.04],[-0.08,-0.08],[-0.03,-0.04],[0.03,-0.08],[0.08,-0.04],[0.14,-0.08],[0.19,-0.04],[0.25,-0.08],[0.3,-0.04,"AR"],
  [-0.35,-0.15],[-0.29,-0.12],[-0.23,-0.16],[-0.17,-0.12],[-0.11,-0.16],[-0.06,-0.12],[0.0,-0.16],[0.05,-0.12],[0.11,-0.16],[0.16,-0.12],[0.22,-0.16],[0.27,-0.12],
  [-0.32,-0.25],[-0.26,-0.22],[-0.2,-0.26],[-0.15,-0.22],[-0.09,-0.26],[-0.03,-0.22],[0.02,-0.26],[0.08,-0.22],[0.13,-0.26],[0.19,-0.22],[0.24,-0.26,"GA"],
  [-0.34,-0.35],[-0.28,-0.32],[-0.23,-0.36],[-0.17,-0.32],[-0.11,-0.36],[-0.06,-0.32],[0.0,-0.36],[0.05,-0.32],[0.11,-0.36,"AL"],[0.16,-0.32],[0.21,-0.36],
  [-0.37,-0.45],[-0.31,-0.42],[-0.25,-0.46],[-0.19,-0.42],[-0.14,-0.46],[-0.08,-0.42],[-0.03,-0.46],[0.03,-0.42],[0.08,-0.46],[0.13,-0.42],
  [-0.33,-0.55],[-0.27,-0.52],[-0.22,-0.56],[-0.16,-0.52],[-0.1,-0.56],[-0.05,-0.52],[0.01,-0.56],[0.06,-0.52],[0.11,-0.56],
  [-0.29,-0.65],[-0.24,-0.62],[-0.18,-0.66],[-0.12,-0.62,"NC"],[-0.07,-0.66],[-0.01,-0.62],[0.04,-0.66],[0.08,-0.74,"TN"],
  [-0.25,-0.75],[-0.19,-0.72],[-0.13,-0.76,"GA"],[-0.02,-0.74],[0.09,-0.7],
  [-0.27,-0.86],[-0.2,-0.83,"VA"],
  [0.054,1.67,"GA"],[0.192,1.44],[0.23,1.39,"SC"],[0.343,1.5,"SC"],[0.514,1.5,"GA"],[0.019,1.28,"MO"],
  [0.031,1.11,"GA"],[-0.056,0.91,"SC"],[0.343,1.07],[0.401,0.96,"GA"],[0.483,0.84,"MS"],[0.552,0.35,"AR"],
  [0.452,-0.08,"VA"],[0.305,-0.48,"TN"],[-0.659,-0.64,"LA"],[-0.414,-0.53],[-0.423,-0.03],[-0.435,-0.95,"MD"],
  [-0.326,-1.02,"GA"],[-0.317,-0.76,"GA"],[0.041,-0.79,"FL"],[0.079,-0.59,"GA"],[0.192,-0.36,"AL"],[-0.238,0.46]
];
const fill1850 = [
  [0.12,0.69],[0.2,0.7],[0.26,0.69],[0.32,0.7],[0.37,0.69],
  [0.05,0.6],[0.13,0.59],[0.19,0.61],[0.24,0.59],[0.3,0.6],[0.35,0.61],[0.39,0.59],
  [-0.08,0.5],[-0.02,0.49],[0.04,0.51],[0.09,0.49],[0.15,0.5],[0.2,0.51],[0.26,0.49],[0.31,0.5],[0.36,0.51],
  [-0.2,0.4],[-0.14,0.39],[-0.08,0.41],[-0.02,0.39],[0.03,0.41],[0.09,0.4],[0.14,0.39],[0.19,0.41],[0.25,0.39],[0.3,0.4],[0.35,0.41],
  [-0.23,0.3],[-0.17,0.29],[-0.11,0.31],[-0.05,0.29],[0.0,0.31],[0.06,0.3],[0.11,0.29],[0.16,0.31],[0.22,0.29],[0.27,0.3],[0.32,0.31],[0.37,0.29],
  [-0.25,0.2],[-0.19,0.19],[-0.14,0.21],[-0.08,0.19],[-0.02,0.21],[0.03,0.2],[0.08,0.19],[0.14,0.21],[0.19,0.19],[0.25,0.2],[0.3,0.21],[0.35,0.19],
  [-0.27,0.1],[-0.22,0.09],[-0.16,0.11],[-0.11,0.09],[-0.05,0.11],[0.0,0.1],[0.06,0.09],[0.11,0.11],[0.17,0.09],[0.22,0.1],[0.27,0.11],[0.33,0.09],
  [-0.3,0.0],[-0.24,-0.01],[-0.18,0.01],[-0.13,-0.01],[-0.07,0.0],[-0.02,0.01],[0.04,-0.01],[0.09,0.0],[0.15,0.01],[0.2,-0.01],[0.26,0.0],[0.31,0.01],
  [-0.32,-0.1],[-0.26,-0.11],[-0.2,-0.09],[-0.14,-0.11],[-0.09,-0.1],[-0.03,-0.09],[0.02,-0.11],[0.08,-0.1],[0.13,-0.09],[0.19,-0.11],[0.24,-0.1],
  [-0.29,-0.2],[-0.23,-0.21],[-0.17,-0.19],[-0.12,-0.21],[-0.06,-0.2],[0.0,-0.19],[0.05,-0.21],[0.11,-0.2],[0.16,-0.19],[0.21,-0.21],
  [-0.31,-0.3],[-0.25,-0.31],[-0.2,-0.29],[-0.14,-0.31],[-0.08,-0.3],[-0.03,-0.29],[0.03,-0.31],[0.08,-0.3],[0.13,-0.29],[0.18,-0.31],
  [-0.34,-0.4],[-0.28,-0.41],[-0.22,-0.39],[-0.16,-0.41],[-0.11,-0.4],[-0.05,-0.39],[0.0,-0.41],[0.05,-0.4],[0.1,-0.39],
  [-0.3,-0.5],[-0.24,-0.51],[-0.19,-0.49],[-0.13,-0.51],[-0.07,-0.5],[-0.02,-0.49],[0.04,-0.51],[0.09,-0.5],
  [-0.26,-0.6],[-0.21,-0.61],[-0.15,-0.59],[-0.09,-0.61],[-0.04,-0.6],[0.02,-0.59],[0.07,-0.6],
  [-0.22,-0.7],[-0.16,-0.71],[-0.1,-0.69]
];

const pts1860 = [
  [-0.15,0.97],[0.2,1.05],[0.25,1.0],[0.32,1.05],[0.38,1.0],
  [-0.13,0.9],[-0.08,0.86],[0.2,0.9],[0.27,0.86],[0.33,0.9],[0.4,0.86],
  [-0.15,0.78],[-0.06,0.8],[0.0,0.76],[0.05,0.8],[0.11,0.76],[0.16,0.8],[0.23,0.76],[0.29,0.8],[0.35,0.76],[0.4,0.8],
  [-0.16,0.7],[-0.1,0.67],[-0.04,0.71],[0.02,0.67],[0.08,0.71],[0.14,0.67],[0.19,0.71],[0.25,0.67],[0.31,0.71],[0.37,0.67],[0.43,0.71,"MD"],
  [-0.13,0.6],[-0.07,0.57],[-0.01,0.61],[0.05,0.57],[0.11,0.61],[0.17,0.57],[0.22,0.61],[0.28,0.57],[0.34,0.61],[0.4,0.57],
  [-0.19,0.5],[-0.14,0.47],[-0.09,0.51],[-0.03,0.47],[0.03,0.51],[0.09,0.47],[0.14,0.51],[0.2,0.47],[0.26,0.51],[0.31,0.47],[0.37,0.51],[0.42,0.47],
  [-0.26,0.41],[-0.2,0.37],[-0.15,0.41],[-0.1,0.37],[-0.05,0.41],[0.01,0.37],[0.07,0.41],[0.12,0.37],[0.18,0.41],[0.23,0.37],[0.29,0.41],[0.35,0.37],[0.4,0.41],[0.46,0.37,"VA"],
  [-0.28,0.3],[-0.22,0.27],[-0.17,0.31],[-0.11,0.27],[-0.06,0.31],[0.0,0.27],[0.05,0.31],[0.11,0.27],[0.16,0.31],[0.22,0.27],[0.27,0.31],[0.33,0.27],[0.38,0.31],[0.44,0.27],
  [-0.3,0.2],[-0.24,0.17],[-0.19,0.21],[-0.13,0.17],[-0.08,0.21],[-0.02,0.17],[0.03,0.21],[0.09,0.17],[0.14,0.21],[0.2,0.17],[0.25,0.21],[0.31,0.17],[0.36,0.21],[0.42,0.17,"AL"],
  [-0.32,0.1],[-0.26,0.07],[-0.21,0.11],[-0.15,0.07],[-0.1,0.11],[-0.04,0.07],[0.01,0.11],[0.07,0.07],[0.12,0.11],[0.18,0.07],[0.23,0.11],[0.29,0.07],[0.34,0.11],[0.4,0.07],[0.45,0.05,"NC"],
  [-0.35,0.0],[-0.29,-0.03],[-0.23,0.01],[-0.18,-0.03],[-0.12,0.01],[-0.07,-0.03],[-0.01,0.01],[0.04,-0.03],[0.1,0.01],[0.15,-0.03],[0.21,0.01],[0.27,-0.03],[0.32,0.01],[0.38,-0.03],[0.44,0.01],
  [-0.33,-0.1],[-0.27,-0.13],[-0.22,-0.09],[-0.16,-0.13],[-0.11,-0.09],[-0.05,-0.13],[0.0,-0.09],[0.06,-0.13],[0.11,-0.09],[0.17,-0.13],[0.22,-0.09],[0.28,-0.13],[0.33,-0.09],[0.39,-0.13,"SC"],
  [-0.37,-0.2],[-0.31,-0.23],[-0.25,-0.19],[-0.2,-0.23],[-0.14,-0.19],[-0.09,-0.23],[-0.03,-0.19],[0.02,-0.23],[0.08,-0.19],[0.13,-0.23],[0.19,-0.19],[0.24,-0.23],[0.3,-0.19,"AR"],[0.35,-0.23,"AR"],
  [-0.38,-0.3],[-0.33,-0.33],[-0.27,-0.29],[-0.22,-0.33],[-0.16,-0.29],[-0.11,-0.33],[-0.05,-0.29],[0.0,-0.33],[0.06,-0.29],[0.11,-0.33],[0.17,-0.29],[0.22,-0.33],[0.28,-0.29],[0.33,-0.33],
  [-0.35,-0.4],[-0.29,-0.43],[-0.24,-0.39],[-0.18,-0.43],[-0.13,-0.39],[-0.07,-0.43],[-0.02,-0.39],[0.04,-0.43],[0.09,-0.39],[0.15,-0.43],[0.2,-0.39],[0.26,-0.43],
  [-0.37,-0.5],[-0.31,-0.53],[-0.26,-0.49],[-0.2,-0.53],[-0.15,-0.49],[-0.09,-0.53],[-0.04,-0.49],[0.02,-0.53],[0.07,-0.49],[0.13,-0.53],[0.18,-0.49],[0.24,-0.53],[0.29,-0.49,"VA"],
  [-0.3,-0.6],[-0.24,-0.63],[-0.19,-0.59],[-0.13,-0.63],[-0.08,-0.59],[-0.02,-0.63],[0.03,-0.59],[0.09,-0.63,"TN"],[0.14,-0.59],
  [-0.28,-0.7],[-0.22,-0.73],[-0.17,-0.69],[-0.11,-0.73],[-0.06,-0.69],[0.0,-0.73],[0.05,-0.69,"TX"],
  [-0.25,-0.8],[-0.19,-0.83],[-0.13,-0.79,"NC"],[-0.01,-0.8],[0.04,-0.78,"TX"],
  [-0.17,-0.91],[-0.12,-0.88],
  [0.292,1.3,"SC"],[0.321,1.12],[0.147,1.13],[0.187,1.09,"SC"],[-0.036,1.09],[0.044,1.02],[0.084,1.02,"AL"],
  [0.388,1.09,"GA"],[0.439,0.87,"MS"],[-0.157,0.97,"GA"],[0.556,0.28,"AL"],[0.546,0.0,"TX"],[0.428,-0.22,"TX"],
  [0.375,-0.49,"TX"],[0.138,-0.91,"TX"],[-0.746,-1.03,"LA"],[-0.258,-1.24,"GA"],[-0.076,-1.41,"GA"],
  [-0.419,-1.57,"MD"],[-0.116,-0.98,"GA"],[-0.165,-0.93],[-0.351,0.0],[-0.382,-0.28],[-0.261,0.41]
];
const fill1860 = [
  [0.23,0.84],[0.3,0.85],[0.36,0.84],
  [-0.12,0.75],[-0.03,0.74],[0.03,0.76],[0.08,0.74],[0.14,0.75],[0.2,0.74],[0.26,0.76],[0.32,0.74],[0.38,0.75],
  [-0.1,0.64],[-0.04,0.65],[0.02,0.63],[0.08,0.65],[0.14,0.64],[0.2,0.63],[0.25,0.65],[0.31,0.64],[0.37,0.63],
  [-0.16,0.55],[-0.1,0.54],[-0.04,0.56],[0.02,0.54],[0.08,0.55],[0.14,0.56],[0.19,0.54],[0.25,0.55],[0.31,0.56],[0.37,0.54],
  [-0.22,0.45],[-0.17,0.44],[-0.12,0.46],[-0.06,0.44],[0.0,0.45],[0.06,0.46],[0.12,0.44],[0.17,0.45],[0.23,0.46],[0.29,0.44],[0.34,0.45],[0.4,0.46],
  [-0.25,0.35],[-0.2,0.34],[-0.14,0.36],[-0.08,0.34],[-0.03,0.35],[0.03,0.36],[0.09,0.34],[0.14,0.35],[0.2,0.36],[0.26,0.34],[0.31,0.35],[0.37,0.36],[0.42,0.34],
  [-0.27,0.25],[-0.22,0.24],[-0.16,0.26],[-0.11,0.24],[-0.05,0.25],[0.01,0.26],[0.06,0.24],[0.12,0.25],[0.18,0.26],[0.23,0.24],[0.29,0.25],[0.35,0.26],[0.4,0.24],
  [-0.29,0.15],[-0.24,0.14],[-0.18,0.16],[-0.13,0.14],[-0.07,0.15],[-0.01,0.16],[0.04,0.14],[0.1,0.15],[0.16,0.16],[0.21,0.14],[0.27,0.15],[0.33,0.16],[0.38,0.14],
  [-0.32,0.05],[-0.27,0.04],[-0.21,0.06],[-0.15,0.04],[-0.1,0.05],[-0.04,0.06],[0.02,0.04],[0.07,0.05],[0.13,0.06],[0.18,0.04],[0.24,0.05],[0.3,0.06],[0.36,0.04],[0.42,0.05],
  [-0.34,-0.05],[-0.28,-0.06],[-0.22,-0.04],[-0.17,-0.06],[-0.11,-0.05],[-0.06,-0.04],[0.0,-0.06],[0.05,-0.05],[0.11,-0.04],[0.16,-0.06],[0.22,-0.05],[0.28,-0.04],[0.34,-0.06],[0.4,-0.05],
  [-0.35,-0.15],[-0.29,-0.16],[-0.24,-0.14],[-0.18,-0.16],[-0.13,-0.15],[-0.07,-0.14],[-0.02,-0.16],[0.04,-0.15],[0.09,-0.14],[0.15,-0.16],[0.2,-0.15],[0.26,-0.14],[0.32,-0.16],
  [-0.35,-0.25],[-0.29,-0.26],[-0.24,-0.24],[-0.18,-0.26],[-0.12,-0.25],[-0.07,-0.24],[-0.01,-0.26],[0.05,-0.25],[0.1,-0.24],[0.16,-0.26],[0.21,-0.25],[0.27,-0.24],[0.32,-0.26],
  [-0.36,-0.35],[-0.3,-0.36],[-0.25,-0.34],[-0.19,-0.36],[-0.14,-0.35],[-0.08,-0.34],[-0.03,-0.36],[0.03,-0.35],[0.08,-0.34],[0.14,-0.36],[0.19,-0.35],[0.25,-0.34],
  [-0.33,-0.45],[-0.27,-0.46],[-0.21,-0.44],[-0.16,-0.46],[-0.1,-0.45],[-0.05,-0.44],[0.01,-0.46],[0.06,-0.45],[0.12,-0.44],[0.17,-0.46],[0.23,-0.45],
  [-0.28,-0.55],[-0.22,-0.56],[-0.17,-0.54],[-0.11,-0.56],[-0.05,-0.55],[0.0,-0.54],[0.06,-0.56],[0.11,-0.55],[0.16,-0.54],
  [-0.26,-0.65],[-0.2,-0.66],[-0.14,-0.64],[-0.09,-0.66],[-0.03,-0.65],[0.02,-0.64],[0.07,-0.66],
  [-0.2,-0.75],[-0.14,-0.76],[-0.08,-0.74],[-0.02,-0.76]
];

const pointSets = [pts1790, pts1800, pts1810, pts1820, pts1830, pts1840, pts1850, pts1860];
const fillSets = [fill1790, fill1800, fill1810, fill1820, fill1830, fill1840, fill1850, fill1860];

// page layout: plot frame [x0, y0, x1, y1], pixel of the zero tick and pixels per unit
const frames = [
  [55, 32, 390, 247], [478, 32, 818, 245],
  [55, 407, 397, 617], [478, 405, 819, 618],
  [54, 782, 397, 988], [476, 782, 818, 991],
  [54, 1153, 397, 1365], [474, 1153, 818, 1365]
];
const xZero = [227, 648, 227, 648, 224, 655, 238, 668];
const xUnit = [318, 322, 318, 320, 316, 272, 266, 249];
const yZero = [163, 156, 526, 521, 886, 887, 1264, 1257];
const yUnit = [47.5, 52, 55, 58, 63, 63, 60, 60];
const yTickGap = [5, 13, 10, 15, 9, 13, 9, 12];
const yTitleGap = [16, 29, 27, 29, 26, 27, 25, 26];

const svg = d3.select("#chart").append("svg")
  .attr("width", 823)
  .attr("height", 1437);

const fmt = d => d === 0 ? "0" : String(d).replace("0.", ".");

years.forEach(function(year, i) {
  const f = frames[i];
  const x = d3.scaleLinear()
    .domain([(f[0] - xZero[i]) / xUnit[i], (f[2] - xZero[i]) / xUnit[i]])
    .range([f[0], f[2]]);
  const y = d3.scaleLinear()
    .domain([(yZero[i] - f[3]) / yUnit[i], (yZero[i] - f[1]) / yUnit[i]])
    .range([f[3], f[1]]);
  const g = svg.append("g");

  // plot frame
  g.append("rect")
    .attr("x", f[0]).attr("y", f[1])
    .attr("width", f[2] - f[0]).attr("height", f[3] - f[1])
    .attr("fill", "none")
    .attr("stroke", "#b4b4b4")
    .attr("stroke-width", 2);

  const xAxis = g.append("g")
    .attr("transform", "translate(0," + f[3] + ")")
    .call(d3.axisBottom(x).tickValues(xTicks).tickFormat(fmt).tickSize(5).tickSizeOuter(0));
  xAxis.selectAll("text").attr("y", 10).attr("dy", "0.95em").attr("font-size", 14).attr("fill", "#222");

  const yAxis = g.append("g")
    .attr("transform", "translate(" + f[0] + ",0)")
    .call(d3.axisLeft(y).tickValues(yTicks).tickFormat(fmt).tickSize(5).tickSizeOuter(0));
  yAxis.selectAll("text")
    .attr("transform", "rotate(-90)")
    .attr("x", 0).attr("y", -yTickGap[i]).attr("dy", 0)
    .attr("text-anchor", "middle")
    .attr("font-size", 13).attr("fill", "#222");

  g.selectAll(".domain").attr("stroke", "#6e6e6e").attr("stroke-width", 2);
  g.selectAll(".tick line").attr("stroke", "#444");

  // points, each drawn with its state label so later markers cover earlier labels
  const pts = fillSets[i].concat(pointSets[i]);
  const marks = g.append("g").selectAll("g")
    .data(pts)
    .join("g");
  marks.append("circle")
    .attr("cx", d => x(d[0]))
    .attr("cy", d => y(d[1]))
    .attr("r", 4.2)
    .attr("fill", "#fff")
    .attr("stroke", "#161616")
    .attr("stroke-width", 1.6);
  marks.filter(d => d[2])
    .append("text")
    .attr("x", d => x(d[0]) + 7)
    .attr("y", d => y(d[1]) + 5)
    .attr("font-size", 7.5)
    .attr("fill", "#555")
    .text(d => d[2]);

  // fitted line through the origin, slope = coefficient
  const ext = d3.extent(pts, d => d[0]);
  g.append("line")
    .attr("x1", x(ext[0])).attr("y1", y(coeffs[i] * ext[0]))
    .attr("x2", x(ext[1])).attr("y2", y(coeffs[i] * ext[1]))
    .attr("stroke", "#ee1c1c")
    .attr("stroke-width", 1.4);

  const cx = (f[0] + f[2]) / 2;
  g.append("text")
    .attr("x", cx).attr("y", f[1] - 6)
    .attr("text-anchor", "middle")
    .attr("font-size", 20).attr("fill", "#111")
    .text(year);

  g.append("text")
    .attr("x", cx).attr("y", f[3] + 44)
    .attr("text-anchor", "middle")
    .attr("font-size", 16).attr("fill", "#222")
    .text("E(County Slave Share | X)");

  g.append("text")
    .attr("transform", "translate(" + (f[0] - yTitleGap[i]) + "," + ((f[1] + f[3]) / 2 + 3) + ") rotate(-90)")
    .attr("text-anchor", "middle")
    .attr("font-size", 16).attr("fill", "#222")
    .text("E(log Average RRI | X)");

  g.append("text")
    .attr("x", f[0] + 6).attr("y", f[3] + 67)
    .attr("font-size", 16).attr("fill", "#222")
    .text(nStates[i] + " states, N=" + nObs[i] + ", coeff = " + coeffs[i] + ", S.E. = " + stdErrs[i]);
});
</script>
</body>
</html>
